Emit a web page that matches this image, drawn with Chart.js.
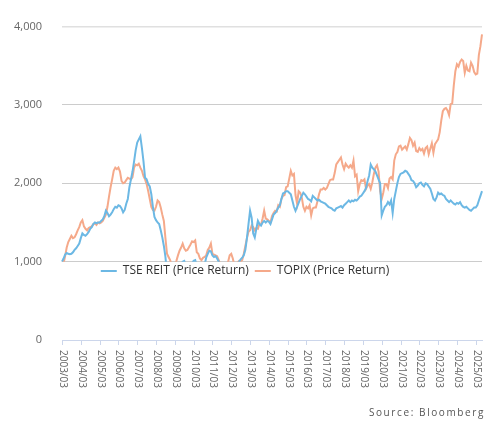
<!DOCTYPE html>
<html>
<head>
<meta charset="utf-8">
<script src="https://cdn.jsdelivr.net/npm/chart.js@4"></script>
<style>
  html, body { margin: 0; padding: 0; background: #fff; }
  #wrap { position: relative; width: 490px; height: 427px; }
  #source {
    position: absolute; right: 5px; top: 405px;
    font: 10px "Open Sans", sans-serif; letter-spacing: 1.6px; color: #555;
  }
</style>
</head>
<body>
<div id="wrap">
  <canvas id="chart"></canvas>
  <div id="source">Source: Bloomberg</div>
</div>
<script>
// monthly points, 2003/03 .. 2025/07 (rows = Mar..Feb)
const tseReit = [
  1000, 1040, 1090, 1110, 1100, 1095, 1100, 1120, 1150, 1170, 1200, 1230,
  1300, 1360, 1340, 1330, 1350, 1380, 1420, 1440, 1480, 1500, 1490, 1500,
  1500, 1520, 1540, 1580, 1650, 1620, 1580, 1600, 1630, 1670, 1700, 1690,
  1720, 1710, 1680, 1630, 1660, 1740, 1800, 1950, 2050, 2150, 2280, 2420,
  2520, 2560, 2600, 2450, 2280, 2070, 2050, 1990, 1960, 1860, 1700, 1570,
  1530, 1500, 1480, 1400, 1310, 1200, 1060, 850, 750, 780, 800, 760,
  780, 820, 880, 920, 960, 1000, 1010, 950, 900, 880, 920, 980,
  1010, 1020, 950, 900, 880, 900, 930, 960, 1050, 1100, 1140, 1130,
  1080, 1060, 1070, 1040, 1000, 940, 900, 850, 820, 780, 820, 860,
  880, 900, 900, 920, 960, 1000, 1030, 1050, 1080, 1150, 1300, 1480,
  1650, 1560, 1360, 1310, 1420, 1520, 1480, 1460, 1500, 1520, 1500, 1520,
  1510, 1480, 1540, 1600, 1620, 1650, 1690, 1720, 1800, 1870, 1880, 1900,
  1900, 1880, 1860, 1780, 1700, 1650, 1700, 1750, 1800, 1840, 1880, 1860,
  1830, 1800, 1790, 1770, 1840, 1820, 1800, 1780, 1790, 1770, 1760, 1750,
  1740, 1720, 1700, 1690, 1680, 1660, 1650, 1680, 1690, 1700, 1710, 1690,
  1720, 1740, 1760, 1780, 1760, 1780, 1770, 1790, 1780, 1800, 1830, 1840,
  1870, 1900, 1940, 2030, 2100, 2240, 2200, 2180, 2150, 2100, 2050, 2000,
  1590, 1650, 1700, 1720, 1760, 1730, 1780, 1620, 1800, 1900, 2000, 2080,
  2120, 2130, 2140, 2160, 2150, 2120, 2090, 2040, 2030, 2000, 1950, 1970,
  2000, 2010, 1980, 1960, 2000, 1990, 1960, 1930, 1870, 1800, 1780, 1820,
  1880, 1860, 1870, 1850, 1840, 1800, 1780, 1760, 1780, 1760, 1740, 1730,
  1750, 1740, 1760, 1720, 1700, 1690, 1700, 1680, 1660, 1650, 1670, 1690,
  1690, 1720, 1780, 1840, 1900
];

const topix = [
  1000, 980, 1070, 1180, 1250, 1290, 1330, 1300, 1310, 1350, 1400, 1440,
  1500, 1530, 1450, 1420, 1400, 1430, 1440, 1450, 1480, 1490, 1470, 1500,
  1490, 1500, 1520, 1560, 1600, 1700, 1830, 1950, 2050, 2160, 2200, 2180,
  2200, 2150, 2030, 2000, 2010, 2040, 2070, 2060, 2050, 2080, 2200, 2240,
  2230, 2250, 2200, 2160, 2090, 2050, 1990, 1900, 1800, 1700, 1660, 1650,
  1700, 1780, 1760, 1690, 1600, 1520, 1300, 1100, 1060, 1020, 960, 940,
  960, 1010, 1080, 1140, 1180, 1230, 1170, 1140, 1150, 1185, 1220, 1260,
  1250, 1270, 1120, 1100, 1040, 1020, 1050, 1060, 1080, 1150, 1180, 1230,
  1100, 1090, 1080, 1070, 1020, 970, 960, 950, 930, 940, 1000, 1080,
  1100, 1040, 950, 960, 990, 1010, 1000, 1020, 1100, 1200, 1300, 1380,
  1400, 1460, 1440, 1400, 1430, 1420, 1480, 1470, 1550, 1650, 1550, 1540,
  1520, 1500, 1580, 1620, 1650, 1640, 1720, 1700, 1800, 1840, 1850, 1950,
  1960, 2060, 2160, 2100, 2120, 1850, 1740, 1900, 1880, 1820, 1700, 1650,
  1700, 1680, 1720, 1590, 1680, 1690, 1690, 1770, 1860, 1920, 1920, 1940,
  1920, 1940, 1990, 2040, 2050, 2050, 2130, 2240, 2270, 2300, 2330, 2240,
  2180, 2250, 2220, 2200, 2230, 2200, 2290, 2090, 2110, 1900, 1990, 2040,
  2030, 2050, 1930, 1970, 1990, 1930, 2010, 2120, 2200, 2230, 2150, 1900,
  1800, 1880, 1990, 1990, 1940, 2060, 2080, 2050, 2290, 2370, 2400, 2470,
  2480, 2430, 2450, 2470, 2430, 2500, 2580, 2550, 2480, 2520, 2410, 2400,
  2450, 2420, 2440, 2380, 2450, 2470, 2370, 2440, 2510, 2390, 2500, 2530,
  2560, 2650, 2800, 2920, 2950, 2960, 2930, 2870, 3010, 3020, 3250, 3430,
  3520, 3490, 3550, 3580, 3560, 3410, 3500, 3440, 3430, 3540, 3500, 3420,
  3390, 3400, 3640, 3750, 3900
];

const tickLabels = [
  '2003/03', '2004/03', '2005/03', '2006/03', '2007/03', '2008/03', '2009/03', '2010/03',
  '2011/03', '2012/03', '2013/03', '2014/03', '2015/03', '2016/03', '2017/03', '2018/03',
  '2019/03', '2020/03', '2021/03', '2022/03', '2023/03', '2024/03', '2025/03'
];

const seriesNames = ['TSE REIT (Price Return)', 'TOPIX (Price Return)'];
const yTicks = [0, 1000, 2000, 3000, 4000];
const clipFloor = 1000;

// month labels for the category axis
const months = [];
for (let i = 0; i < tseReit.length; i++) {
  const m = 2 + i; // 0-based month, starting March 2003
  const yr = 2003 + Math.floor(m / 12);
  const mo = (m % 12) + 1;
  months.push(yr + '/' + String(mo).padStart(2, '0'));
}

const FONT = '"Open Sans", sans-serif';

const decor = {
  id: 'decor',
  beforeDatasetsDraw(chart) {
    const { ctx, chartArea, scales: { y } } = chart;
    ctx.save();
    ctx.beginPath();
    ctx.rect(chartArea.left - 2, chartArea.top - 5,
      chartArea.right - chartArea.left + 4, y.getPixelForValue(clipFloor) - chartArea.top + 5);
    ctx.clip();
  },
  afterDatasetsDraw(chart) {
    chart.ctx.restore();
  },
  afterDraw(chart) {
    const { ctx, chartArea, scales: { x } } = chart;
    // x ticks + rotated labels
    ctx.save();
    ctx.strokeStyle = '#ccd6eb';
    ctx.lineWidth = 1;
    ctx.fillStyle = '#666';
    ctx.font = '10px ' + FONT;
    tickLabels.forEach(lbl => {
      const px = Math.round(x.getPixelForValue(months.indexOf(lbl))) + 0.5;
      ctx.beginPath();
      ctx.moveTo(px, chartArea.bottom);
      ctx.lineTo(px, chartArea.bottom + 5);
      ctx.stroke();
      ctx.save();
      ctx.translate(px, chartArea.bottom + 10);
      ctx.rotate(Math.PI / 2);
      ctx.textAlign = 'left';
      ctx.textBaseline = 'middle';
      ctx.fillText(lbl, 0, 0);
      ctx.restore();
    });
    ctx.restore();

    // legend
    ctx.save();
    ctx.font = '12px ' + FONT;
    ctx.textBaseline = 'middle';
    const sym = 16, gap = 6, itemGap = 6;
    const widths = chart.data.datasets.map(d => sym + gap + ctx.measureText(d.label).width);
    const total = widths.reduce((a, b) => a + b, 0) + itemGap * (widths.length - 1);
    let lx = chart.width / 2 - total / 2;
    const ly = 271;
    chart.data.datasets.forEach((d, i) => {
      ctx.strokeStyle = d.borderColor;
      ctx.lineWidth = 2;
      ctx.beginPath();
      ctx.moveTo(lx, ly);
      ctx.lineTo(lx + sym, ly);
      ctx.stroke();
      ctx.fillStyle = '#333';
      ctx.fillText(d.label, lx + sym + gap, ly);
      lx += widths[i] + itemGap;
    });
    ctx.restore();
  }
};

const ctx = document.getElementById('chart').getContext('2d');

new Chart(ctx, {
  type: 'line',
  data: {
    labels: months,
    datasets: [{
      label: seriesNames[0],
      data: tseReit,
      borderColor: '#6cb8e4',
      borderWidth: 2,
      pointRadius: 0,
      tension: 0
    }, {
      label: seriesNames[1],
      data: topix,
      borderColor: '#f5a98a',
      borderWidth: 2,
      pointRadius: 0,
      tension: 0
    }]
  },
  options: {
    responsive: true,
    maintainAspectRatio: false,
    animation: false,
    layout: { padding: { top: 25, right: 8, left: 0, bottom: 0 } },
    plugins: {
      legend: { display: false },
      tooltip: { enabled: false }
    },
    scales: {
      x: {
        offset: false,
        grid: { display: false },
        border: { color: '#ccd6eb' },
        ticks: { display: false },
        afterFit(s) { s.height = 87; }
      },
      y: {
        min: 0,
        max: 4000,
        afterBuildTicks(s) { s.ticks = yTicks.map(v => ({ value: v })); },
        border: { display: false },
        grid: {
          drawTicks: false,
          color: c => c.tick.value === 4000 ? '#e0e0e0' : (c.tick.value === 0 ? '#ccd6eb' : '#cccccc'),
          lineWidth: c => c.tick.value === 4000 ? 1.5 : 1
        },
        ticks: {
          padding: 20,
          color: '#666',
          font: { family: FONT, size: 11 },
          callback: v => v.toLocaleString('en-US')
        },
        afterFit(s) { s.width = 62; }
      }
    }
  },
  plugins: [decor]
});
</script>
</body>
</html>
